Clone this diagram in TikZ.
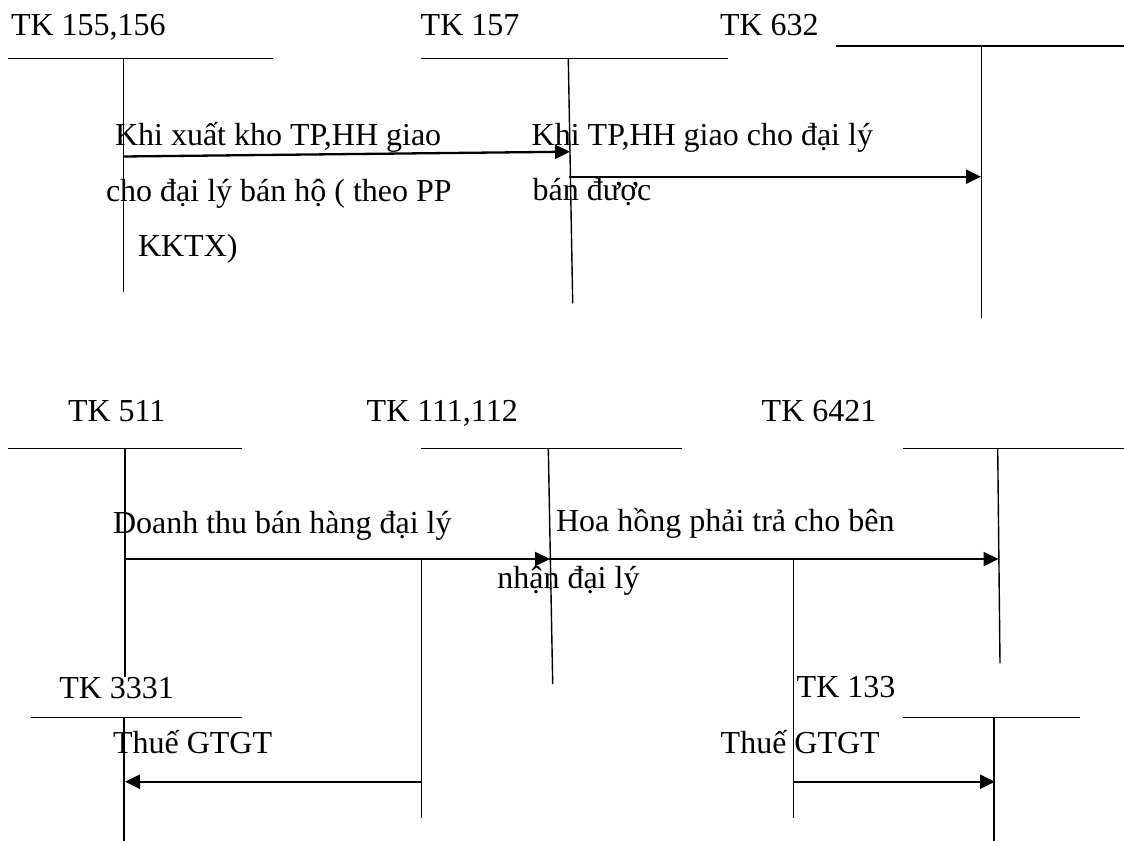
\documentclass[tikz,border=0pt]{standalone}
\usepackage{fontspec}
\setmainfont{Liberation Serif}
\usetikzlibrary{arrows.meta}
\tikzset{
  lbl/.style={inner sep=0pt, outer sep=0pt, anchor=base west, font=\fontsize{32}{38}\selectfont},
  acct/.style={line width=1.4pt},
  flow/.style={line width=2.3pt, -{Triangle[length=15pt,width=14pt]}},
  branch/.style={line width=1.4pt}
}
\begin{document}
\begin{tikzpicture}[x=1pt,y=-1pt]
\useasboundingbox (0,0) rectangle (1124,841);
% ---------- top row ----------
\node[lbl] (tk155) at (11,35.7) {TK 155,156};
\node[lbl] (tk157) at (420.7,35.5) {TK 157};
\node[lbl] (tk632) at (720,35) {TK 632};
% T-account lines
\coordinate (h1a) at (8,58.3);   \coordinate (h1b) at (273,58.3);
\coordinate (v1a) at (123.3,58.3); \coordinate (v1b) at (123.3,291.7);
\coordinate (h2a) at (420.7,58.3); \coordinate (h2b) at (728.3,58.3);
\coordinate (v2a) at (568.3,58.3); \coordinate (v2b) at (572.7,303.3);
\coordinate (h3a) at (836,46);   \coordinate (h3b) at (1124,46);
\coordinate (v3a) at (981.7,46); \coordinate (v3b) at (981.7,318.3);
\draw[acct] (h1a) -- (h1b); \draw[acct] (v1a) -- (v1b);
\draw[acct] (h2a) -- (h2b); \draw[acct] (v2a) -- (v2b);
\draw[acct] (h3a) -- (h3b); \draw[acct] (v3a) -- (v3b);
% flows
\coordinate (a1s) at (123.3,156.5); \coordinate (a1e) at (570,151.7);
\coordinate (a2s) at (568.5,176.7); \coordinate (a2e) at (981,176.7);
\draw[flow] (a1s) -- (a1e);
\draw[flow] (a2s) -- (a2e);
\node[lbl] (l1a) at (115,145.7) {Khi xuất kho TP,HH giao};
\node[lbl] (l1b) at (106,201) {cho đại lý bán hộ ( theo PP};
\node[lbl] (l1c) at (138,256.7) {KKTX)};
\node[lbl] (l2a) at (531.7,145.7) {Khi TP,HH giao cho đại lý};
\node[lbl] (l2b) at (532.7,200.5) {bán được};
% ---------- bottom row ----------
\node[lbl] (tk511) at (68,421.7) {TK 511};
\node[lbl] (tk111) at (366.7,421.7) {TK 111,112};
\node[lbl] (tk6421) at (761.7,421.7) {TK 6421};
\node[lbl] (tk3331) at (59.3,698.3) {TK 3331};
\node[lbl] (tk133) at (796.7,697.7) {TK 133};
\coordinate (h4a) at (8,448.3);    \coordinate (h4b) at (242.3,448.3);
\coordinate (v4a) at (125,448.3);  \coordinate (v4b) at (125,676.7);
\coordinate (h6a) at (420.7,448.3); \coordinate (h6b) at (681.7,448.3);
\coordinate (v6a) at (548.3,448.3); \coordinate (v6b) at (552.7,684);
\coordinate (h7a) at (903.3,448.3); \coordinate (h7b) at (1124,448.3);
\coordinate (v7a) at (997.7,448.3); \coordinate (v7b) at (1000,663.3);
\coordinate (h5a) at (30.7,717.3); \coordinate (h5b) at (242.3,717.3);
\coordinate (v5a) at (124,717.3);  \coordinate (v5b) at (124,841);
\coordinate (h8a) at (903.3,717.3); \coordinate (h8b) at (1080,717.3);
\coordinate (v8a) at (994,717.3);  \coordinate (v8b) at (994,841);
\draw[acct] (h4a) -- (h4b); \draw[acct] (v4a) -- (v4b);
\draw[acct] (h6a) -- (h6b); \draw[acct] (v6a) -- (v6b);
\draw[acct] (h7a) -- (h7b); \draw[acct] (v7a) -- (v7b);
\draw[acct] (h5a) -- (h5b); \draw[acct] (v5a) -- (v5b);
\draw[acct] (h8a) -- (h8b); \draw[acct] (v8a) -- (v8b);
% flows
\coordinate (a3s) at (125,559); \coordinate (a3e) at (550,559);
\coordinate (a5s) at (548.5,559); \coordinate (a5e) at (998.5,559);
\coordinate (b1a) at (421.7,559); \coordinate (b1b) at (421.7,818.3);
\coordinate (b2a) at (793.3,559); \coordinate (b2b) at (793.3,818.3);
\coordinate (a4s) at (421.7,781.7); \coordinate (a4e) at (125,781.7);
\coordinate (a6s) at (793.3,781.7); \coordinate (a6e) at (995,781.7);
\draw[branch] (b1a) -- (b1b);
\draw[branch] (b2a) -- (b2b);
\draw[flow] (a3s) -- (a3e);
\draw[flow] (a5s) -- (a5e);
\draw[flow] (a4s) -- (a4e);
\draw[flow] (a6s) -- (a6e);
\node[lbl] (l3) at (113,533.3) {Doanh thu bán hàng đại lý};
\node[lbl] (l5a) at (556,531.7) {Hoa hồng phải trả cho bên};
\node[lbl] (l5b) at (497.3,588.3) {nhận đại lý};
\node[lbl] (l4) at (113,753.3) {Thuế GTGT};
\node[lbl] (l6) at (720.7,753.3) {Thuế GTGT};
\end{tikzpicture}
\end{document}
